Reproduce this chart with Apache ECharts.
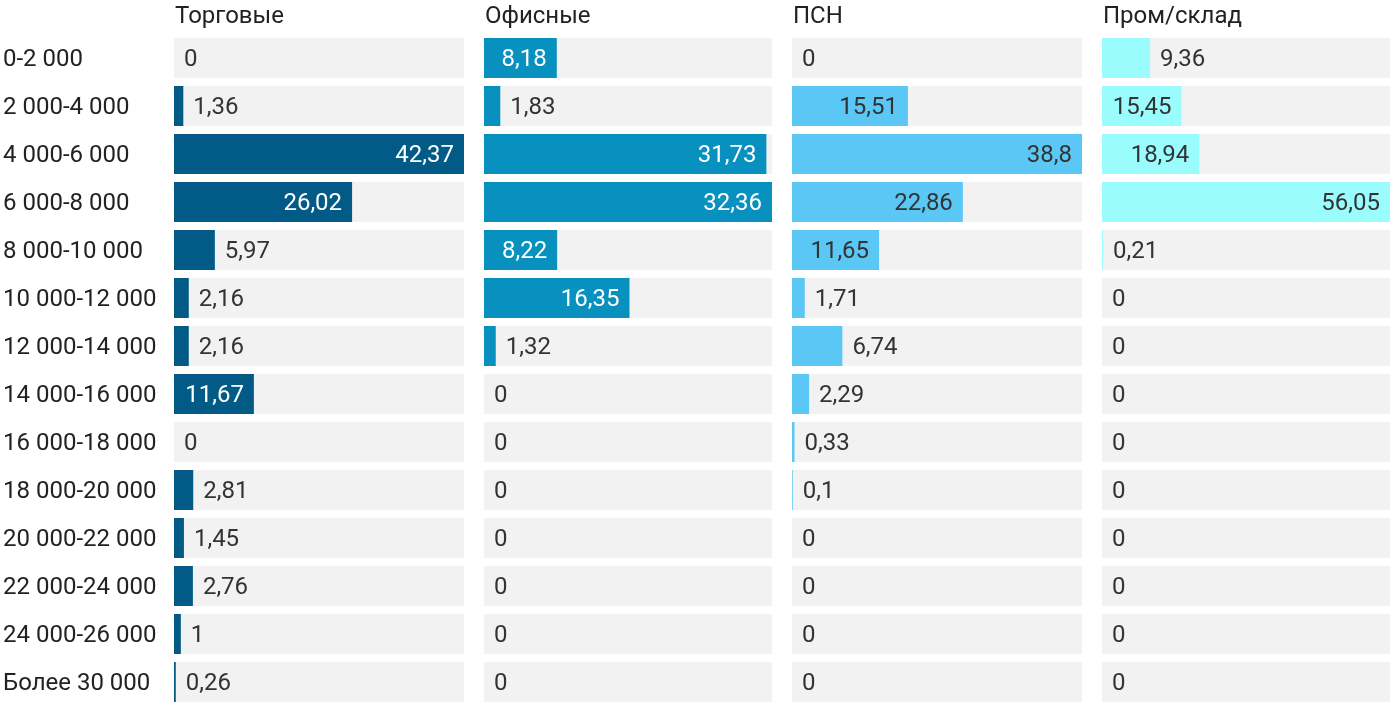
<!DOCTYPE html>
<html><head><meta charset="utf-8">
<script src="https://cdn.jsdelivr.net/npm/echarts@6/dist/echarts.min.js"></script>
<style>html,body{margin:0;padding:0;background:#fff}#c{width:1400px;height:718px}</style>
</head><body><div id="c"></div>
<script>
const categories = ['0-2 000','2 000-4 000','4 000-6 000','6 000-8 000','8 000-10 000','10 000-12 000','12 000-14 000','14 000-16 000','16 000-18 000','18 000-20 000','20 000-22 000','22 000-24 000','24 000-26 000','Более 30 000'];
const titles = ['Торговые','Офисные','ПСН','Пром/склад'];
const trade  = [0,1.36,42.37,26.02,5.97,2.16,2.16,11.67,0,2.81,1.45,2.76,1,0.26];
const office = [8.18,1.83,31.73,32.36,8.22,16.35,1.32,0,0,0,0,0,0,0];
const psn    = [0,15.51,38.8,22.86,11.65,1.71,6.74,2.29,0.33,0.1,0,0,0,0];
const prom   = [9.36,15.45,18.94,56.05,0.21,0,0,0,0,0,0,0,0,0];
const seriesData = [trade, office, psn, prom];
const colors = ['#015b86','#0891bf','#5bc7f4','#9bfcfe'];
const insideText = ['#ffffff','#ffffff','#333333','#333333'];
const lefts = [174,484,792,1102];
const widths = [290,288,290,288];
const FONT = 'Roboto';
const FS = 24;

const grid = [], xAxis = [], yAxis = [], series = [], title = [];
for (let i = 0; i < 4; i++) {
  const max = Math.max(...seriesData[i]);
  grid.push({left: lefts[i], width: widths[i], top: 34, bottom: 12});
  xAxis.push({gridIndex: i, type: 'value', min: 0, max: max, show: false});
  yAxis.push({gridIndex: i, type: 'category', data: categories, inverse: true, show: false});
  title.push({text: titles[i], left: lefts[i] + 1, top: 5, padding: 0,
    textStyle: {fontFamily: FONT, fontSize: FS, fontWeight: 'normal', color: '#222'}});
  series.push({
    type: 'bar', xAxisIndex: i, yAxisIndex: i, barWidth: 40,
    showBackground: true, backgroundStyle: {color: '#f2f2f2'},
    itemStyle: {color: colors[i]},
    data: seriesData[i].map(v => {
      const px = v / max * widths[i];
      const inside = px > 62;
      return {value: v, label: {position: inside ? 'insideRight' : 'right', color: inside ? insideText[i] : '#333'}};
    }),
    label: {show: true, distance: 10, offset: [0, 2], fontFamily: FONT, fontSize: FS,
      formatter: p => String(p.value).replace('.', ',')}
  });
}
// category label axis (text only), aligned with the bar rows
grid.push({left: 174, width: 290, top: 36, bottom: 10});
xAxis.push({gridIndex: 4, type: 'value', show: false});
yAxis.push({gridIndex: 4, type: 'category', data: categories, inverse: true,
  axisLine: {show: false}, axisTick: {show: false}, splitLine: {show: false},
  axisLabel: {align: 'left', margin: 171, color: '#222', fontFamily: FONT, fontSize: FS}});

const chart = echarts.init(document.getElementById('c'));
chart.setOption({animation: false, title, grid, xAxis, yAxis, series});
</script></body></html>
